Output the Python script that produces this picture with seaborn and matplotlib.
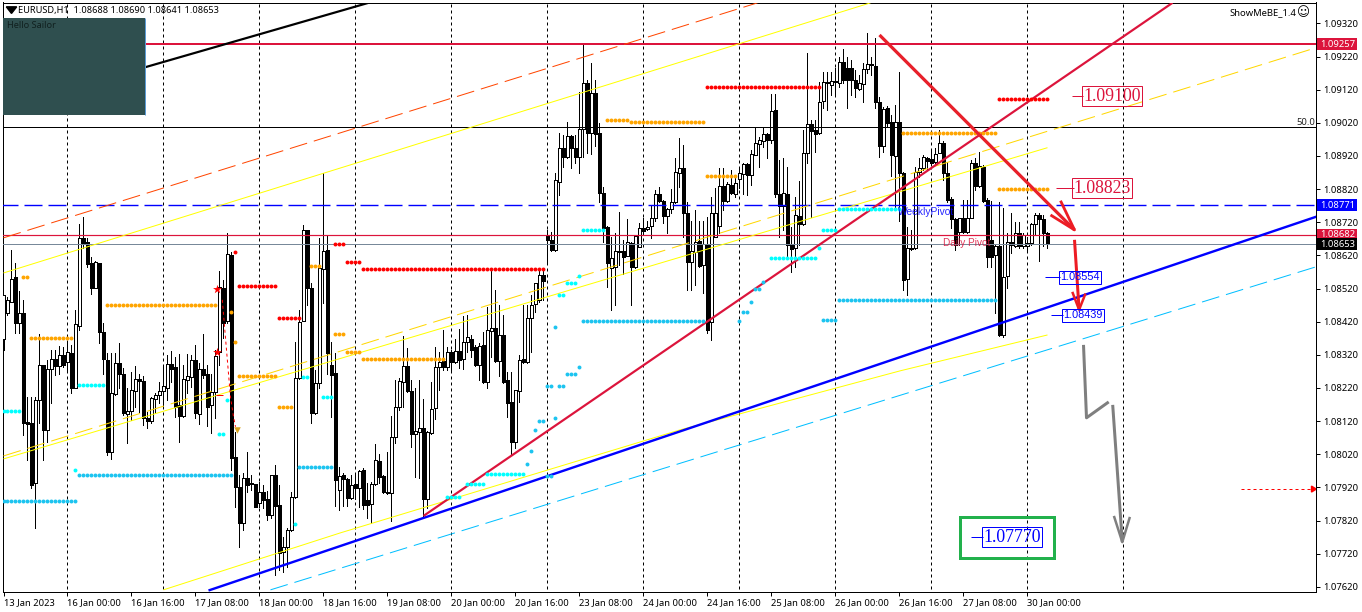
"""EURUSD H1 chart with pivots and hand-drawn trend lines."""
import numpy as np
import pandas as pd
import matplotlib
matplotlib.use("Agg")
import matplotlib.pyplot as plt
from matplotlib.patches import Rectangle, Polygon
import seaborn as sns

# candles, in points (108653 = 1.08653), one bar per hour
opens_pts = [108368,108447,108480,108555,108417,108447,108118,108115,107934,108183,108290,108094,108278,108308,108287,108320,108299,108326,108220,108408,
108673,108661,108598,108522,108598,108389,108305,108027,108202,108296,108263,108142,108151,108211,108247,108241,108130,108121,108187,108199,
108211,108220,108293,108284,108169,108136,108244,108253,108305,108142,108278,108263,108169,108208,108329,108522,108423,108622,108012,107922,
107813,107949,107934,107931,107873,107907,107886,107837,107958,107867,107726,107741,107792,107892,108250,108423,108697,108522,108145,108235,
108579,108637,108290,108266,107913,107958,107946,107889,107931,107919,107973,107882,107870,107931,108000,107955,107907,107904,108072,108163,
108238,108287,108211,108082,108088,108100,107886,108085,108160,108284,108302,108284,108329,108299,108332,108308,108359,108368,108344,108290,
108350,108238,108392,108401,108302,108380,108244,108178,108057,108211,108308,108299,108432,108474,108486,108561,108679,108667,108637,108842,
108945,108917,108981,108945,108917,109002,109141,108990,109111,108990,108809,108706,108583,108586,108634,108634,108619,108658,108586,108646,
108703,108700,108709,108733,108806,108785,108739,108760,108782,108869,108884,108748,108601,108631,108664,108592,108652,108420,108676,108709,
108830,108785,108833,108806,108851,108866,108896,108863,108923,108956,108966,108987,108969,109059,108806,108770,108806,108655,108643,108739,
108715,108929,109017,108999,108990,109086,109144,109135,109147,109141,109204,109186,109186,109150,109123,109138,109183,109198,109192,109084,
108950,109065,109023,108920,109023,108869,108549,108643,108643,108872,108884,108914,108911,108902,108929,108959,108869,108791,108730,108691,
108733,108691,108733,108899,108830,108887,108788,108667,108622,108649,108380,108558,108661,108649,108688,108649,108649,108658,108715,108742,
108730,108688]
highs_pts = [108501,108495,108637,108598,108513,108486,108193,108193,108193,108383,108290,108305,108335,108335,108347,108344,108356,108350,108456,108715,
108736,108673,108616,108604,108598,108417,108326,108326,108326,108356,108281,108220,108269,108287,108263,108256,108148,108193,108205,108238,
108290,108320,108332,108314,108323,108290,108323,108320,108350,108296,108383,108290,108263,108335,108573,108546,108688,108631,108087,107958,
107964,108027,107958,107931,107937,107928,107910,107958,107988,107928,107771,107798,107907,108359,108456,108712,108697,108537,108275,108673,
108869,108682,108359,108326,107982,107964,107949,107958,107964,107973,107979,107934,107937,108051,108021,107958,108027,108136,108244,108250,
108377,108341,108244,108220,108244,108187,108091,108238,108344,108329,108395,108344,108335,108368,108398,108438,108441,108380,108350,108356,
108389,108465,108576,108516,108471,108441,108269,108269,108214,108320,108471,108471,108501,108537,108576,108576,108697,108691,108869,108990,
108984,109023,108984,108984,109113,109261,109150,109201,109150,109020,108827,108709,108676,108688,108751,108667,108730,108661,108682,108718,
108733,108724,108772,108818,108827,108788,108764,108821,108914,108975,108953,108782,108724,108757,108724,108724,108736,108796,108823,108884,
108884,108842,108878,108857,108884,108899,108899,108938,109008,108978,109005,108990,109107,109107,108908,108914,108887,108706,108796,108845,
108999,109231,109029,109029,109144,109174,109174,109174,109186,109219,109243,109219,109210,109180,109165,109201,109291,109219,109276,109099,
109069,109071,109044,109074,109174,108872,108706,108697,108887,108914,108923,108917,108938,108944,108999,108966,108902,108797,108733,108733,
108788,108788,108908,108914,108932,108893,108794,108785,108652,108782,108764,108688,108748,108721,108721,108688,108676,108718,108748,108748,
108742,108690]
lows_pts = [108335,108441,108480,108386,108386,108079,108003,107919,107798,108115,108003,108057,108175,108260,108263,108284,108269,108205,108220,108396,
108643,108585,108504,108522,108356,108263,108018,108006,108199,108220,108139,108054,108124,108163,108148,108109,108100,108115,108145,108175,
108160,108184,108238,108133,108057,108133,108205,108223,108130,108112,108251,108106,108085,108130,108290,108371,108417,107973,107861,107741,
107792,107907,107913,107861,107861,107858,107822,107828,107656,107671,107665,107680,107789,107889,108247,108423,108471,108115,108142,108220,
108477,108263,108133,107864,107852,107864,107864,107886,107886,107861,107855,107828,107813,107928,107934,107904,107901,107819,108054,108154,
108163,108208,108042,107952,107949,107834,107858,108082,108127,108214,108275,108275,108275,108296,108281,108278,108329,108314,108287,108244,
108235,108220,108314,108299,108256,108235,108133,108018,108039,108178,108296,108296,108329,108450,108480,108486,108598,108634,108634,108803,
108887,108914,108884,108899,108869,108917,108929,108926,108950,108782,108661,108525,108456,108471,108592,108564,108619,108471,108583,108646,
108691,108697,108673,108724,108782,108718,108688,108748,108779,108827,108676,108516,108516,108531,108585,108507,108386,108365,108676,108688,
108757,108782,108806,108797,108824,108806,108803,108833,108923,108887,108947,108914,108960,108797,108676,108697,108616,108571,108585,108652,
108712,108899,108736,108932,108987,109065,109059,109105,109105,109129,109141,109065,109105,109099,109120,109084,109171,109165,109065,108917,
108932,109008,108860,108764,108724,108516,108501,108637,108640,108857,108878,108878,108893,108899,108929,108848,108782,108703,108637,108652,
108688,108688,108733,108818,108827,108782,108585,108585,108447,108377,108374,108522,108628,108646,108643,108643,108637,108652,108682,108604,
108649,108641]
closes_pts = [108501,108486,108549,108417,108447,108115,108112,107928,108183,108290,108094,108278,108308,108287,108320,108290,108329,108220,108414,108673,
108658,108595,108522,108601,108389,108308,108027,108205,108296,108263,108145,108151,108214,108247,108241,108130,108121,108190,108199,108211,
108226,108293,108278,108163,108136,108247,108256,108305,108145,108278,108260,108163,108208,108317,108525,108417,108625,108009,107922,107813,
107949,107928,107931,107861,107907,107883,107837,107958,107864,107723,107741,107792,107892,108250,108420,108697,108522,108145,108235,108583,
108634,108326,108260,107943,107955,107946,107889,107928,107919,107970,107867,107867,107931,108003,107952,107907,107904,108072,108163,108241,
108287,108211,108082,108091,108100,107886,108088,108157,108284,108299,108284,108329,108299,108332,108305,108359,108374,108335,108290,108347,
108238,108395,108401,108302,108380,108238,108175,108057,108214,108305,108299,108432,108471,108537,108561,108543,108667,108637,108848,108945,
108917,108981,108945,108917,109002,109141,108990,109111,108987,108809,108703,108598,108613,108634,108631,108616,108661,108586,108679,108703,
108694,108706,108733,108806,108785,108739,108760,108782,108872,108884,108748,108601,108634,108661,108589,108655,108395,108748,108748,108830,
108785,108836,108809,108839,108869,108896,108863,108926,108959,108969,108987,108969,109056,108806,108770,108809,108652,108640,108742,108715,
108929,109017,108996,108987,109083,109144,109141,109147,109144,109204,109150,109150,109150,109126,109141,109183,109198,109195,109084,108950,
109062,109020,108923,109023,108869,108546,108643,108640,108872,108884,108917,108905,108899,108926,108959,108869,108788,108730,108652,108733,
108691,108733,108899,108830,108890,108785,108616,108616,108649,108380,108555,108661,108652,108688,108649,108682,108658,108715,108742,108730,
108688,108653]

# time axis
tick_bars = list(range(0, 262, 16))
tick_dates = ["13 Jan 2023", "16 Jan 00:00", "16 Jan 16:00", "17 Jan 08:00", "18 Jan 00:00", "18 Jan 16:00",
              "19 Jan 08:00", "20 Jan 00:00", "20 Jan 16:00", "23 Jan 08:00", "24 Jan 00:00", "24 Jan 16:00",
              "25 Jan 08:00", "26 Jan 00:00", "26 Jan 16:00", "27 Jan 08:00", "30 Jan 00:00"]
grid_bars = list(range(16, 281, 24))
price_ticks = [1.0762 + 0.001 * k for k in range(18)]

# pivot dots: first bar, last bar, level in points
red_levels = [(58,58,108631),(59,68,108528),(69,74,108431),(83,85,108655),(86,89,108601),(90,135,108579),(176,204,109129),(249,261,109092)]
orange_levels = [(5,6,108555),(7,17,108371),(26,53,108471),(57,57,108450),(58,58,108359),(59,68,108256),(69,72,108163),(77,79,108589),
                 (83,85,108383),(86,89,108329),(90,110,108308),(151,156,109029),(157,175,109023),(176,183,108860),(225,248,108990),(249,261,108821)]
cyan_levels = [(0,4,108151),(18,18,107973),(19,25,108228),(54,55,108082),(56,56,108184),(73,73,107810),(75,76,108253),(80,82,108193),
               (111,114,107892),(116,120,107931),(121,130,107961),(139,140,108501),(141,143,108537),(144,144,108558),(145,150,108697),
               (192,203,108613),(204,204,108643),(205,208,108697),(209,224,108760)]
sky_levels = [(0,18,107880),(19,57,107958),(74,82,107982),(131,131,107991),(132,132,108030),(133,133,108094),(134,135,108121),
              (136,137,108226),(136,137,107955),(138,138,108130),(139,140,108226),(141,143,108263),(144,144,108284),(138,138,108405),
              (145,175,108423),(184,184,108423),(185,186,108450),(187,187,108480),(188,189,108519),(190,190,108540),(205,208,108426),(209,248,108486)]

# horizontal levels
level_crimson = 1.09257
level_fibo = 1.09007
level_weekly = 1.08771
level_daily = 1.08682
level_last = 1.08653
level_alert = 1.07915

# trend lines: bars, points
black_bars, black_pts = [35.5, 91.25], [109188, 109382]
upper_bars, upper_pts = [0, 188.5], [108673, 109382]
yellow1_bars, yellow1_pts = [0, 216.75], [108567, 109382]
yellow2_bars, yellow2_pts = [0, 261], [108006, 108945]
gold_bars, gold_pts = [0, 328], [108015, 109246]
yellow3_bars, yellow3_pts = [40, 84.25, 169.25, 224.25, 261], [107611, 107783, 108094, 108272, 108380]
blue_bars, blue_pts = [51.25, 328.25], [107609, 108737]
sky_bars, sky_pts = [66.75, 328.25], [107611, 108586]
rise_bars, rise_pts = [105, 292.25], [107834, 109382]
fall_bars, fall_pts = [219, 267.75], [109285, 108697]
fall_head_bars, fall_head_pts = [264.25, 267.75, 261.75], [108785, 108697, 108742]
drop_bars, drop_pts = [267.75, 268.9], [108667, 108456]
drop_head_bars, drop_head_pts = [267.2, 268.9, 270.5], [108510, 108456, 108505]
gray1_bars, gray1_pts = [270, 270.75, 276.3], [108350, 108130, 108178]
gray2_bars, gray2_pts = [277.3, 279.7], [108169, 107755]
gray_head_bars, gray_head_pts = [277.6, 279.7, 281.6], [107834, 107755, 107831]
old_path_bars, old_path_pts = [54.7, 56.25, 56.75, 57.5, 58], [108486, 108263, 108193, 108133, 108103]

WIDTH, HEIGHT = 1362, 612
PX = 0.72  # one screen pixel in points at dpi 100


def px(n):
    return n * PX


def draw_line(ax, bars, points, color, width, dash=None, zorder=4, smooth=True):
    """Trend line through seaborn, points given in 1e-5 price units, dash given in screen pixels."""
    kw = {}
    if dash is not None:
        kw["linestyle"] = (0, tuple(d / width for d in dash))
    sns.lineplot(x=bars, y=np.array(points) / 1e5, color=color, linewidth=px(width), estimator=None,
                 sort=False, ax=ax, zorder=zorder, antialiased=smooth, solid_capstyle="butt", **kw)


def draw_dots(ax, levels, color):
    xs, ys = [], []
    for first, last, level in levels:
        for b in range(first, last + 1):
            xs.append(b)
            ys.append(level / 1e5)
    sns.scatterplot(x=xs, y=ys, color=color, s=8, marker="o", linewidth=0, ax=ax, zorder=5)


def price_label(ax, tick_start, bar, price, text, color, family, size, pad):
    draw_line(ax, [tick_start, bar], [price * 1e5, price * 1e5], color, 1, zorder=6)
    ax.text(bar, price, text, color=color, family=family, fontsize=size, va="center", ha="left", zorder=7,
            bbox=dict(boxstyle=f"square,pad={pad}", fc="none", ec=color, lw=px(1)))


sns.set_theme(style="white")
plt.rcParams["font.family"] = ["Noto Sans", "DejaVu Sans"]

fig = plt.figure(figsize=(WIDTH / 100, HEIGHT / 100), dpi=100, facecolor="white")
ax = fig.add_axes([2.5 / WIDTH, (HEIGHT - 591.5) / HEIGHT, 1314 / WIDTH, 589 / HEIGHT])

df = pd.DataFrame({"open": opens_pts, "high": highs_pts, "low": lows_pts, "close": closes_pts}) / 1e5
df["bar"] = range(len(df))
df["top"] = df[["open", "close"]].max(axis=1)
df["bottom"] = df[["open", "close"]].min(axis=1)
rising = df["close"] >= df["open"]

ax.vlines(grid_bars, 1.07, 1.10, color="black", lw=px(1), linestyle=(0, (3, 3)), zorder=1)
ax.vlines(df["bar"], df["low"], df["high"], color="black", lw=px(1), zorder=2, antialiased=False)
ax.bar(df["bar"], df["top"] - df["bottom"], bottom=df["bottom"], width=0.55, zorder=3, linewidth=px(1),
       color=["white" if r else "black" for r in rising], edgecolor="black", antialiased=False)

# levels
last_bar = 329
draw_line(ax, [-1, last_bar], [level_crimson * 1e5] * 2, "#dc143c", 2)
draw_line(ax, [-1, last_bar], [level_fibo * 1e5] * 2, "black", 1)
draw_line(ax, [-1, last_bar], [level_weekly * 1e5] * 2, "#0000ff", 1.4, dash=(18, 6))
draw_line(ax, [-1, last_bar], [level_daily * 1e5] * 2, "#dc143c", 1.2)
draw_line(ax, [-1, last_bar], [level_last * 1e5] * 2, "#778899", 1)
draw_line(ax, [309.5, 327], [level_alert * 1e5] * 2, "#ff0000", 1, dash=(3, 3))
ax.add_patch(Polygon([(327, level_alert + 0.00009), (327, level_alert - 0.00009), (328.2, level_alert)], color="#ff0000", zorder=6))

# dots
draw_dots(ax, orange_levels, "#ffa500")
draw_dots(ax, red_levels, "#ff0000")
draw_dots(ax, cyan_levels, "#00ffff")
draw_dots(ax, sky_levels, "#1cc4f0")

# trend lines
draw_line(ax, black_bars, black_pts, "black", 2.2)
draw_line(ax, upper_bars, upper_pts, "#ff4500", 1, dash=(18, 7))
draw_line(ax, yellow1_bars, yellow1_pts, "#ffff00", 1)
draw_line(ax, yellow2_bars, yellow2_pts, "#ffff00", 1)
draw_line(ax, gold_bars, gold_pts, "#ffd700", 1, dash=(18, 7))
draw_line(ax, yellow3_bars, yellow3_pts, "#ffff00", 1)
draw_line(ax, blue_bars, blue_pts, "#0000ff", 2.4)
draw_line(ax, sky_bars, sky_pts, "#00bfff", 1, dash=(18, 7))
draw_line(ax, rise_bars, rise_pts, "#dc143c", 2.2)
draw_line(ax, fall_bars, fall_pts, "#e8202a", 3.2, zorder=6)
draw_line(ax, fall_head_bars, fall_head_pts, "#ed1c24", 2.8, zorder=6)
draw_line(ax, drop_bars, drop_pts, "#ed1c24", 3, zorder=6)
draw_line(ax, drop_head_bars, drop_head_pts, "#ed1c24", 2.5, zorder=6)
draw_line(ax, gray1_bars, gray1_pts, "#7f7f7f", 3, zorder=6)
draw_line(ax, gray2_bars, gray2_pts, "#7f7f7f", 3, zorder=6)
draw_line(ax, gray_head_bars, gray_head_pts, "#7f7f7f", 2.5, zorder=6)
draw_line(ax, old_path_bars, old_path_pts, "#ff0000", 1, dash=(3, 3))
draw_line(ax, [53.25, 55], [108199, 108199], "#ff0000", 1)
sns.scatterplot(x=[53.5, 53.5], y=[1.08519, 1.08329], color="#ff0000", marker="*", s=45, linewidth=0, ax=ax, zorder=6)
sns.scatterplot(x=[58.5], y=[1.08094], color="#daa520", marker="v", s=22, linewidth=0, ax=ax, zorder=6)

# price labels on the chart
price_label(ax, 267.25, 269.95, 1.09100, "1.09100", "#dc143c", "Liberation Serif", 12.8, 0.08)
price_label(ax, 263.25, 267.55, 1.08823, "1.08823", "#dc143c", "Liberation Serif", 12.8, 0.08)
price_label(ax, 260.5, 264.1, 1.08554, "1.08554", "#0000ff", "Liberation Sans", 7.8, 0.12)
price_label(ax, 262, 265, 1.08439, "1.08439", "#0000ff", "Liberation Sans", 7.8, 0.12)
price_label(ax, 242, 244.95, 1.07770, "1.07770", "#0000ff", "Liberation Serif", 12.8, 0.08)
ax.add_patch(Rectangle((239.25, 1.07708), 23.35, 0.00123, fill=False, ec="#22b14c", lw=px(3), zorder=7))
ax.text(223.6, 1.08750, "WeeklyPivot", color="#0000ff", fontsize=7.4, family="Liberation Sans", va="center", zorder=6, alpha=0.85)
ax.text(235, 1.08657, "Daily Pivot", color="#dc143c", fontsize=7.2, family="Liberation Sans", va="center", zorder=6, alpha=0.85)
ax.text(328, 1.09020, "50.0", color="#222222", fontsize=6.8, family="Noto Sans", ha="right", va="center", zorder=6)

# info panel and header
ax.add_patch(Rectangle((-0.25, 1.09043), 35.75, 0.00293, fc="#2f4f4f", ec="none", zorder=8))
ax.vlines(35.5, 1.09043, 1.09336, color="#5b9bd5", lw=px(1), zorder=8)
ax.text(1, 1.09315, "Hello Sailor", color="#10201f", fontsize=6.6, family="Noto Sans", va="center", zorder=9)
ax.add_patch(Polygon([(0.7, 1.09370), (3.3, 1.09370), (2, 1.09350)], color="black", zorder=9))
ax.text(3.6, 1.09358, "EURUSD,H1  1.08688 1.08690 1.08641 1.08653", color="black", fontsize=6.65, family="Noto Sans", va="center", zorder=9)
ax.text(325, 1.09353, "\u263a", color="black", fontsize=9, family="DejaVu Sans", ha="center", va="center", zorder=9)
ax.text(323.3, 1.09353, "ShowMeBE_1.4", color="black", fontsize=6.8, family="Noto Sans", ha="right", va="center", zorder=9)

# limits and axes
ax.set_xlim(-0.25, 328.25)
ax.set_ylim(1.07606, 1.09383)
ax.set_xlabel("")
ax.set_ylabel("")
ax.set_xticks(tick_bars)
ax.set_xticklabels(tick_dates, ha="left", fontsize=6.8, color="black")
ax.yaxis.tick_right()
ax.set_yticks(price_ticks)
ax.set_yticklabels([f"{p:.5f}" for p in price_ticks], fontsize=6.8, color="black")
ax.tick_params(axis="x", length=3, width=px(1), pad=2, color="black", bottom=True)
ax.tick_params(axis="y", length=3, width=px(1), pad=2, color="black", right=True)
for side in ax.spines.values():
    side.set_visible(True)
    side.set_color("black")
    side.set_linewidth(px(1))

# coloured price tags on the axis
tags = [(level_crimson, "1.09257", "#dc143c"), (level_weekly, "1.08771", "#0000ff"),
        (level_daily, "1.08682", "#dc143c"), (level_last, "1.08653", "black")]
for price, text, colour in tags:
    ax.add_patch(Rectangle((328.4, price - 0.00018), 10.1, 0.00036, fc=colour, ec="none", clip_on=False, zorder=10))
    ax.text(329.2, price, text, color="white", fontsize=6.8, va="center", clip_on=False, zorder=11)

fig.savefig("out.png", dpi=100)
